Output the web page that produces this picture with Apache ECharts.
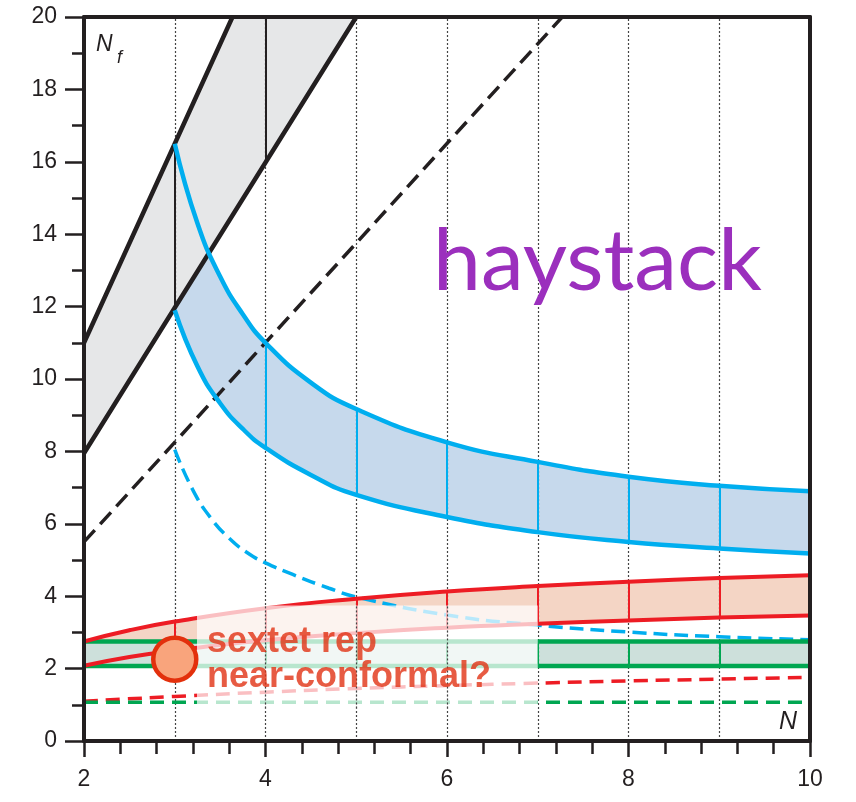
<!DOCTYPE html>
<html><head><meta charset="utf-8">
<script src="https://cdn.jsdelivr.net/npm/echarts@6/dist/echarts.min.js"></script>
<style>html,body{margin:0;padding:0;background:#fff}#c{width:856px;height:802px}</style>
</head><body><div id="c"></div>
<script>
// ---------- data ----------
// fundamental rep (gray band)
const blackUpperN  = [2, 3, 3.636];
const blackUpperNf = [11, 16.5, 20];
const blackLowerN  = [2, 3, 4, 5];
const blackLowerNf = [7.95, 11.97, 15.98, 20];
const blackDashN   = [2, 7.27];
const blackDashNf  = [5.5, 20];
// two-index antisymmetric (blue band)
const blueN      = [3, 3.25, 3.5, 3.75, 4, 4.5, 5, 6, 7, 8, 9, 10];
const blueUpper  = [16.5, 14.3, 12.83, 11.79, 11.0, 9.9, 9.17, 8.25, 7.71, 7.3, 7.05, 6.9];
const blueLower  = [11.9, 10.35, 9.33, 8.62, 8.1, 7.35, 6.8, 6.19, 5.77, 5.5, 5.32, 5.18];
const blueDashN  = [3, 3.2, 3.4, 3.6, 3.8, 4, 4.3, 4.7, 5, 6, 7, 8, 9, 10];
const blueDashNf = [8.05, 6.93, 6.15, 5.6, 5.2, 4.92, 4.6, 4.22, 3.98, 3.48, 3.2, 3.01, 2.88, 2.8];
// two-index symmetric (red band)
const redN      = [2, 2.5, 3, 4, 5, 6, 7, 8, 9, 10];
const redUpper  = [2.75, 3.06, 3.3, 3.67, 3.93, 4.13, 4.28, 4.4, 4.5, 4.58];
const redLower  = [2.08, 2.32, 2.5, 2.78, 2.98, 3.13, 3.24, 3.33, 3.41, 3.47];
const redDashN  = [2, 3, 4, 5, 6, 7, 8, 9, 10];
const redDashNf = [1.1, 1.23, 1.35, 1.45, 1.53, 1.6, 1.66, 1.71, 1.76];
// adjoint (green band)
const greenN     = [2, 10];
const greenUpper = [2.75, 2.75];
const greenLower = [2.075, 2.075];
const greenDashN  = [2, 10];
const greenDashNf = [1.07, 1.07];
// separators / guides
const dottedN   = [3, 4, 5, 6, 7, 8, 9];
const graySepN  = [3, 4];
const blueSepN  = [4, 5, 6, 7, 8, 9];
const redSepN   = [3, 4, 5, 6, 7, 8, 9];
const greenSepN = [3, 4, 5, 6, 7, 8, 9];
const sextetPoint = [3, 2.26];
const overlayBox  = [[3.245, 0.9], [7, 3.74]];
const xTickLabels = ['2', '4', '6', '8', '10'];
const yTickLabels = ['0','2','4','6','8','10','12','14','16','18','20'];

// ---------- colours ----------
const BLACK = '#231f20', BLUE = '#00aeef', RED = '#ed1c24', GREEN = '#00a651';

const pts = (xs, ys) => xs.map((x, i) => [x, ys[i]]);
const valAt = (xs, ys, n) => {
  const i = xs.indexOf(n);
  if (i >= 0) return ys[i];
  for (let k = 0; k < xs.length - 1; k++) if (n >= xs[k] && n <= xs[k+1]) {
    return ys[k] + (ys[k+1]-ys[k])*(n-xs[k])/(xs[k+1]-xs[k]);
  }
  return ys[ys.length-1];
};

let zf = 1;
// area under/over a curve (origin 'start' = down to y min, 'end' = up to y max)
function fill(xs, ys, color, origin, smooth) {
  zf += 0.01;
  return {type:'line', data:pts(xs, ys), symbol:'none', smooth:smooth, silent:true,
    lineStyle:{opacity:0, width:0}, areaStyle:{color:color, opacity:1, origin:origin}, z:zf};
}
function curve(xs, ys, color, width, type, smooth, z, extra) {
  return Object.assign({type:'line', data:pts(xs, ys), symbol:'none', smooth:smooth, silent:true,
    lineStyle:{color:color, width:width, type:type, cap:'butt'}, z:z}, extra || {});
}
function sepData(ns, loFn, hiFn) {
  return ns.map(n => [{coord:[n, loFn(n)]}, {coord:[n, hiFn(n)]}]);
}
function seps(data, color) {
  return {symbol:['none','none'], silent:true, label:{show:false}, z:3, animation:false,
    lineStyle:{color:color, width:2, type:'solid'}, data:data};
}

const series = [];
// band fills, painted in order
series.push(fill(blueN, blueUpper, '#c6d9ec', 'start', true));
series.push(fill(blueN, blueLower, '#ffffff', 'start', true));
series.push(fill(redN, redUpper, '#f4d5c5', 'start', true));
series.push(fill(redN, redLower, '#ffffff', 'start', true));
series.push(fill(greenN, greenUpper, '#cde0db', 'start', false));
series.push(fill(greenN, greenLower, '#ffffff', 'start', false));
series.push(fill(blackLowerN, blackLowerNf, '#e6e7e8', 'end', false));
series.push(fill(blackUpperN, blackUpperNf, '#ffffff', 'end', false));

// dotted guides (under the band separators)
series.push({type:'scatter', data:[], symbolSize:0, silent:true, z:2,
  markLine:{silent:true, z:2, symbol:['none','none'], label:{show:false}, animation:false,
    lineStyle:{color:'#444', width:1.2, type:[2,2]},
    data: dottedN.map(n => ({xAxis:n}))}
});

// dashed curves
series.push(curve(blackDashN, blackDashNf, BLACK, 3.5, [16, 8], false, 2.5));
series.push(curve(blueDashN, blueDashNf, BLUE, 3.5, [14, 7], true, 2.5));
series.push(curve(redDashN, redDashNf, RED, 3.5, [14, 8], true, 2.5));
series.push(curve(greenDashN, greenDashNf, GREEN, 3.5, [14, 8], false, 2.5));

// solid curves with separators
const grayTop = n => n <= blackUpperN[blackUpperN.length-1] ? valAt(blackUpperN, blackUpperNf, n) : 20;
series.push(curve(blackUpperN, blackUpperNf, BLACK, 4.5, 'solid', false, 3,
  {markLine: seps(sepData(graySepN, n => valAt(blackLowerN, blackLowerNf, n), grayTop), BLACK)}));
series.push(curve(blackLowerN, blackLowerNf, BLACK, 4.5, 'solid', false, 3));
series.push(curve(blueN, blueUpper, BLUE, 4.5, 'solid', true, 3,
  {markLine: seps(sepData(blueSepN, n => valAt(blueN, blueLower, n), n => valAt(blueN, blueUpper, n)), BLUE)}));
series.push(curve(blueN, blueLower, BLUE, 4.5, 'solid', true, 3));
series.push(curve(greenN, greenUpper, GREEN, 4.5, 'solid', false, 3,
  {markLine: seps(sepData(greenSepN, n => valAt(greenN, greenLower, n), n => valAt(greenN, greenUpper, n)), GREEN)}));
series.push(curve(greenN, greenLower, GREEN, 4.5, 'solid', false, 3));
series.push(curve(redN, redUpper, RED, 4, 'solid', true, 3,
  {markLine: seps(sepData(redSepN, n => valAt(redN, redLower, n), n => valAt(redN, redUpper, n)), RED)}));
series.push(curve(redN, redLower, RED, 4, 'solid', true, 3));

// white translucent overlay, with the dotted guides redrawn on top of it
const dottedInBox = dottedN.filter(n => n > overlayBox[0][0] && n < overlayBox[1][0]);
series.push({type:'scatter', data:[], symbolSize:0, silent:true, z:5,
  markArea:{silent:true, z:5, itemStyle:{color:'rgba(255,255,255,0.72)'},
    data:[[{coord:overlayBox[0]}, {coord:overlayBox[1]}]]},
  markLine:{silent:true, z:6, symbol:['none','none'], label:{show:false}, animation:false,
    lineStyle:{color:'#444', width:1.2, type:[2,2]},
    data: sepData(dottedInBox, () => overlayBox[0][1], () => overlayBox[1][1])}
});

// sextet point
series.push({type:'scatter', data:[sextetPoint], symbol:'circle', symbolSize:43, silent:true, z:7,
  itemStyle:{color:'#f9a47c', borderColor:'#e3300c', borderWidth:4.5, opacity:1}});

const axisCommon = {
  type:'value', splitLine:{show:false}, minorSplitLine:{show:false},
  axisLine:{show:true, onZero:false, lineStyle:{color:BLACK, width:4}}
};
const labelStyle = {color:BLACK, fontSize:23, fontFamily:'"Liberation Sans", Arial, sans-serif'};

const option = {
  animation:false,
  backgroundColor:'#fff',
  grid:{left:84, right:46, top:17, bottom:61, show:false},
  xAxis:[
    Object.assign({}, axisCommon, {min:2, max:10, interval:2, position:'bottom', z:20,
      axisTick:{show:true, inside:false, length:16, lineStyle:{color:BLACK, width:2.5}},
      minorTick:{show:true, splitNumber:5, length:13, lineStyle:{color:BLACK, width:2.5}},
      axisLabel:Object.assign({margin:27, formatter:(v)=>xTickLabels[(v-2)/2]}, labelStyle)}),
    Object.assign({}, axisCommon, {min:2, max:10, position:'top', z:20,
      axisTick:{show:false}, axisLabel:{show:false}})
  ],
  yAxis:[
    Object.assign({}, axisCommon, {min:0, max:20, interval:2, position:'left', z:20,
      axisTick:{show:true, inside:false, length:19, lineStyle:{color:BLACK, width:2.5}},
      minorTick:{show:true, splitNumber:2, length:12, lineStyle:{color:BLACK, width:2.5}},
      axisLabel:Object.assign({margin:27, formatter:(v)=>yTickLabels[v/2]}, labelStyle)}),
    Object.assign({}, axisCommon, {min:0, max:20, position:'right', z:20,
      axisTick:{show:false}, axisLabel:{show:false}})
  ],
  graphic:[
    {type:'text', x:433, y:262, z:10, silent:true,
      style:{text:'haystack', font:'86px Lato, "Open Sans", sans-serif', fill:'#9b2fbd', verticalAlign:'middle'}},
    {type:'text', x:207, y:642, z:10, silent:true,
      style:{text:'sextet rep', font:'bold 36px "Liberation Sans", Arial, sans-serif', fill:'rgba(225,50,20,0.8)', verticalAlign:'middle'}},
    {type:'text', x:207, y:677, z:10, silent:true,
      style:{text:'near-conformal?', font:'bold 36px "Liberation Sans", Arial, sans-serif', fill:'rgba(225,50,20,0.8)', verticalAlign:'middle'}},
    {type:'text', x:96, y:45, z:10, silent:true,
      style:{text:'N', font:'italic 23px "Liberation Sans", Arial, sans-serif', fill:BLACK, verticalAlign:'middle'}},
    {type:'text', x:117, y:58, z:10, silent:true,
      style:{text:'f', font:'italic 18px "Liberation Sans", Arial, sans-serif', fill:BLACK, verticalAlign:'middle'}},
    {type:'text', x:779, y:722, z:10, silent:true,
      style:{text:'N', font:'italic 25px "Liberation Sans", Arial, sans-serif', fill:BLACK, verticalAlign:'middle'}}
  ],
  series: series
};

const chart = echarts.init(document.getElementById('c'), null, {renderer:'canvas'});
chart.setOption(option);
</script>
</body></html>
